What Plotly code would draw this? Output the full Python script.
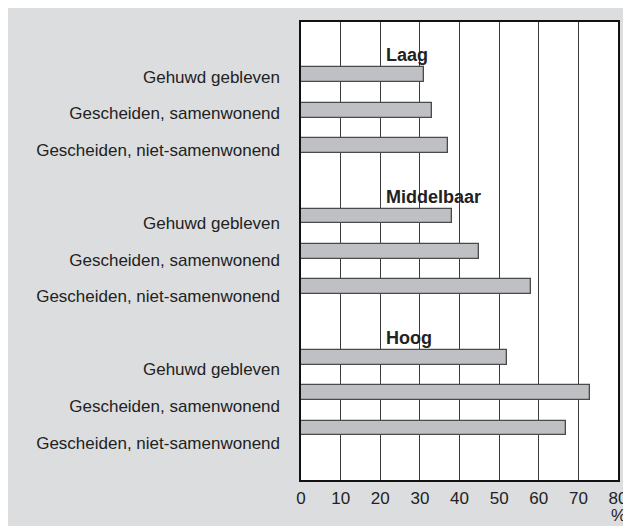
import plotly.graph_objects as go

groups = ["Laag", "Middelbaar", "Hoog"]
categories = ["Gehuwd gebleven", "Gescheiden, samenwonend", "Gescheiden, niet-samenwonend"]
laag = [31, 33, 37]
middelbaar = [38, 45, 58]
hoog = [52, 73, 67]
x_ticks = [0, 10, 20, 30, 40, 50, 60, 70, 80]
unit_label = "%"

series = [laag, middelbaar, hoog]

# positions: each group takes 3 slots + 1 empty slot
bar_pos, bar_val = [], []
lab_pos, lab_txt = [], []
for g, vals in enumerate(series):
    for i, v in enumerate(vals):
        bar_pos.append(g * 4 + i)
        bar_val.append(v)
        lab_pos.append(g * 4 + i)
        lab_txt.append(categories[i])

W, H = 631, 526
L, R, T, B = 293, 18, 12, 54
BG = "#dcdddf"
TXT = "#222222"
FONT = "Liberation Sans, Arial"

fig = go.Figure()
fig.add_trace(go.Bar(
    x=bar_val, y=bar_pos, orientation="h", width=0.42,
    marker=dict(color="#bfc0c3", line=dict(color="#4a4a4a", width=1.3)),
    showlegend=False, hoverinfo="x",
))
fig.add_trace(go.Scatter(
    x=[0] * len(lab_pos), y=lab_pos, yaxis="y2", mode="markers",
    marker=dict(opacity=0), showlegend=False, hoverinfo="skip",
))

for g, name in enumerate(groups):
    fig.add_annotation(x=21, y=g * 4 - 0.55, xref="x", yref="y", text="<b>" + name + "</b>",
                       showarrow=False, xanchor="left", yanchor="middle",
                       font=dict(size=18, color=TXT, family=FONT))

fig.add_annotation(x=1.0016, y=-0.078, xref="paper", yref="paper", text=unit_label,
                   showarrow=False, xanchor="center", yanchor="middle",
                   font=dict(size=17, color=TXT, family=FONT))

fig.update_layout(
    width=W, height=H, autosize=False,
    margin=dict(l=L, r=R, t=T, b=B, pad=0),
    paper_bgcolor=BG, plot_bgcolor="white",
    font=dict(family=FONT, color=TXT),
    bargap=0,
    xaxis=dict(range=[0, 80], tickvals=x_ticks, ticktext=[str(v) for v in x_ticks],
               showgrid=True, gridcolor="#3c3c3c", gridwidth=1, zeroline=False,
               showline=True, linecolor="#111111", linewidth=1.5, mirror=True,
               ticks="", ticklabelstandoff=2, tickfont=dict(size=17, color=TXT)),
    yaxis=dict(range=[11.474, -1.494], showticklabels=False, showgrid=False, zeroline=False,
               showline=True, linecolor="#111111", linewidth=1.5, mirror=True, ticks=""),
    yaxis2=dict(range=[11.02, -1.497], overlaying="y", side="left", anchor="x",
                tickvals=lab_pos, ticktext=lab_txt, showgrid=False, zeroline=False,
                showline=False, ticks="", ticklabelstandoff=20,
                tickfont=dict(size=17, color=TXT)),
)

fig.write_html("out.html")
